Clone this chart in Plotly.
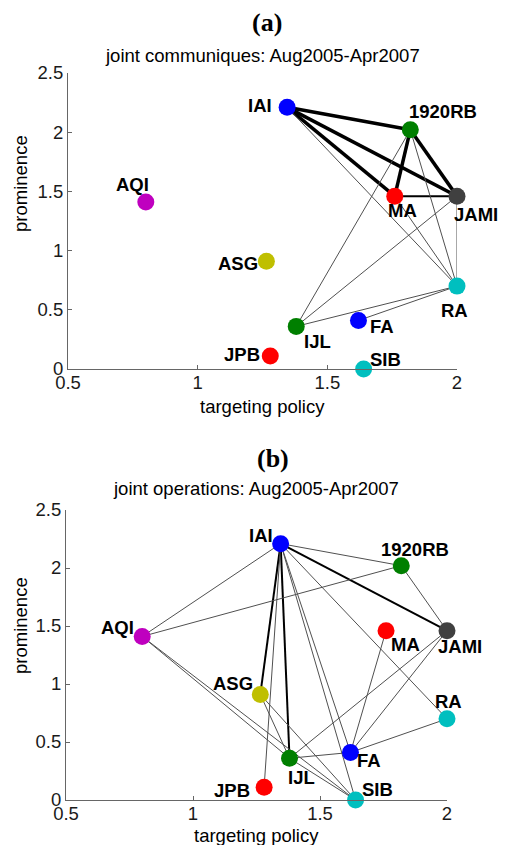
import plotly.graph_objects as go

# ---------------- data ----------------
names = ["IAI", "1920RB", "MA", "JAMI", "AQI", "ASG", "RA", "IJL", "FA", "JPB", "SIB"]
targeting = [1.345, 1.82, 1.76, 2.0, 0.80, 1.265, 2.0, 1.38, 1.62, 1.28, 1.64]
prominence = [2.21, 2.02, 1.46, 1.46, 1.41, 0.91, 0.70, 0.36, 0.41, 0.11, 0.0]

# joint communiques (panel a): source, target, tie strength
comm_src = ["IAI", "IAI", "IAI", "1920RB", "1920RB", "MA", "IAI", "1920RB", "1920RB", "MA", "JAMI", "JAMI", "IJL", "FA"]
comm_dst = ["1920RB", "MA", "JAMI", "MA", "JAMI", "JAMI", "RA", "IJL", "RA", "RA", "RA", "IJL", "RA", "RA"]
comm_str = [3, 3, 3, 3, 3, 2, 1, 1, 1, 1, 1, 1, 1, 1]

# joint operations (panel b)
ops_src = ["IAI", "IAI", "IAI", "IAI", "IAI", "IAI", "IAI", "IAI", "IAI", "AQI", "AQI", "AQI",
           "1920RB", "JAMI", "JAMI", "MA", "ASG", "ASG", "IJL", "IJL", "FA"]
ops_dst = ["AQI", "1920RB", "JAMI", "ASG", "IJL", "JPB", "SIB", "FA", "RA", "1920RB", "IJL", "SIB",
           "JAMI", "IJL", "FA", "FA", "IJL", "SIB", "FA", "SIB", "RA"]
ops_str = [1, 1, 2, 2, 2, 1, 1, 1, 1, 1, 1, 1, 1, 1, 1, 1, 1, 1, 1, 1, 1]

x_ticks = [0.5, 1, 1.5, 2]
x_ticktext = ["0.5", "1", "1.5", "2"]
y_ticks = [0, 0.5, 1, 1.5, 2, 2.5]
y_ticktext = ["0", "0.5", "1", "1.5", "2", "2.5"]

# ---------------- styles ----------------
node_colors = ["#0000FF", "#007F00", "#FF0000", "#404040", "#BF00BF", "#BFBF00",
               "#00BFBF", "#007F00", "#0000FF", "#FF0000", "#00BFBF"]
width_map = {1: 1.0, 2: 2.0, 3: 3.5}
color_map = {1: "#505050", 2: "#000000", 3: "#000000"}

# label offsets in pixels (dx right, dy down)
lab_a = {"IAI": (-27, -2), "1920RB": (33, -18), "MA": (8, 14), "JAMI": (19, 18), "AQI": (-13, -18),
         "ASG": (-28, 2), "RA": (-3, 24), "IJL": (21, 15), "FA": (24, 6), "JPB": (-28, -1), "SIB": (22, -10)}
lab_b = {"IAI": (-20, -8), "1920RB": (14, -16), "MA": (19, 14), "JAMI": (13, 16), "AQI": (-25, -9),
         "ASG": (-27, -11), "RA": (1, -17), "IJL": (12, 19), "FA": (19, 8), "JPB": (-32, 3), "SIB": (22, -11)}

W, H = 510, 845
SANS = "Liberation Sans, Arial"
SERIF = "Liberation Serif, Times New Roman"
FS = 18.5

pos = {n: (x, y) for n, x, y in zip(names, targeting, prominence)}

fig = go.Figure()


def add_panel(src, dst, strength, xa, ya):
    for s, d, k in zip(src, dst, strength):
        fig.add_trace(go.Scatter(
            x=[pos[s][0], pos[d][0]], y=[pos[s][1], pos[d][1]],
            mode="lines", line=dict(color=color_map[k], width=width_map[k]),
            xaxis=xa, yaxis=ya, hoverinfo="skip", showlegend=False, cliponaxis=False))
    fig.add_trace(go.Scatter(
        x=targeting, y=prominence, mode="markers",
        marker=dict(size=17, color=node_colors, line=dict(width=0)),
        xaxis=xa, yaxis=ya, showlegend=False, cliponaxis=False, text=names))


add_panel(comm_src, comm_dst, comm_str, "x", "y")
add_panel(ops_src, ops_dst, ops_str, "x2", "y2")

axis_common = dict(showline=True, linecolor="#666666", linewidth=1, ticks="inside", ticklen=4,
                   tickcolor="#666666", showgrid=False, zeroline=False,
                   tickfont=dict(family=SANS, size=FS, color="#1a1a1a"))

fig.update_layout(
    width=W, height=H, margin=dict(l=0, r=0, t=0, b=0, autoexpand=False),
    paper_bgcolor="white", plot_bgcolor="white",
    xaxis=dict(domain=[68 / W, 457 / W], range=[0.5, 2], tickvals=x_ticks, ticktext=x_ticktext,
               anchor="y", ticklabelstandoff=-3, **axis_common),
    yaxis=dict(domain=[1 - 369 / H, 1 - 73 / H], range=[0, 2.5], tickvals=y_ticks, ticktext=y_ticktext,
               anchor="x", ticklabelstandoff=0, **axis_common),
    xaxis2=dict(domain=[66 / W, 447 / W], range=[0.5, 2], tickvals=x_ticks, ticktext=x_ticktext,
                anchor="y2", ticklabelstandoff=-3, **axis_common),
    yaxis2=dict(domain=[1 - 800 / H, 1 - 510 / H], range=[0, 2.5], tickvals=y_ticks, ticktext=y_ticktext,
                anchor="x2", ticklabelstandoff=0, **axis_common),
)

ann = []
for offs, xr, yr in ((lab_a, "x", "y"), (lab_b, "x2", "y2")):
    for n in names:
        dx, dy = offs[n]
        ann.append(dict(x=pos[n][0], y=pos[n][1], xref=xr, yref=yr, text="<b>%s</b>" % n,
                        showarrow=False, xshift=dx, yshift=-dy,
                        font=dict(family=SANS, size=FS, color="black")))


def paper_text(txt, px, py, size, family, angle=0):
    ann.append(dict(x=px / W, y=1 - py / H, xref="paper", yref="paper", text=txt, showarrow=False,
                    textangle=angle, xanchor="center", yanchor="middle",
                    font=dict(family=family, size=size, color="black")))


paper_text("<b>(a)</b>", 267, 22, 26, SERIF)
paper_text("joint communiques: Aug2005-Apr2007", 262, 55, FS, SANS)
paper_text("targeting policy", 262, 406, FS, SANS)
paper_text("prominence", 20, 184, FS, SANS, -90)

paper_text("<b>(b)</b>", 273, 458, 26, SERIF)
paper_text("joint operations: Aug2005-Apr2007", 256, 488, FS, SANS)
paper_text("targeting policy", 256, 835, FS, SANS)
paper_text("prominence", 20, 626, FS, SANS, -90)

fig.update_layout(annotations=ann)
fig.write_html("out.html", config={"displayModeBar": False},
               post_script="document.body.style.margin='0px';document.body.style.padding='0px';"
                           "document.documentElement.style.overflow='hidden';")
